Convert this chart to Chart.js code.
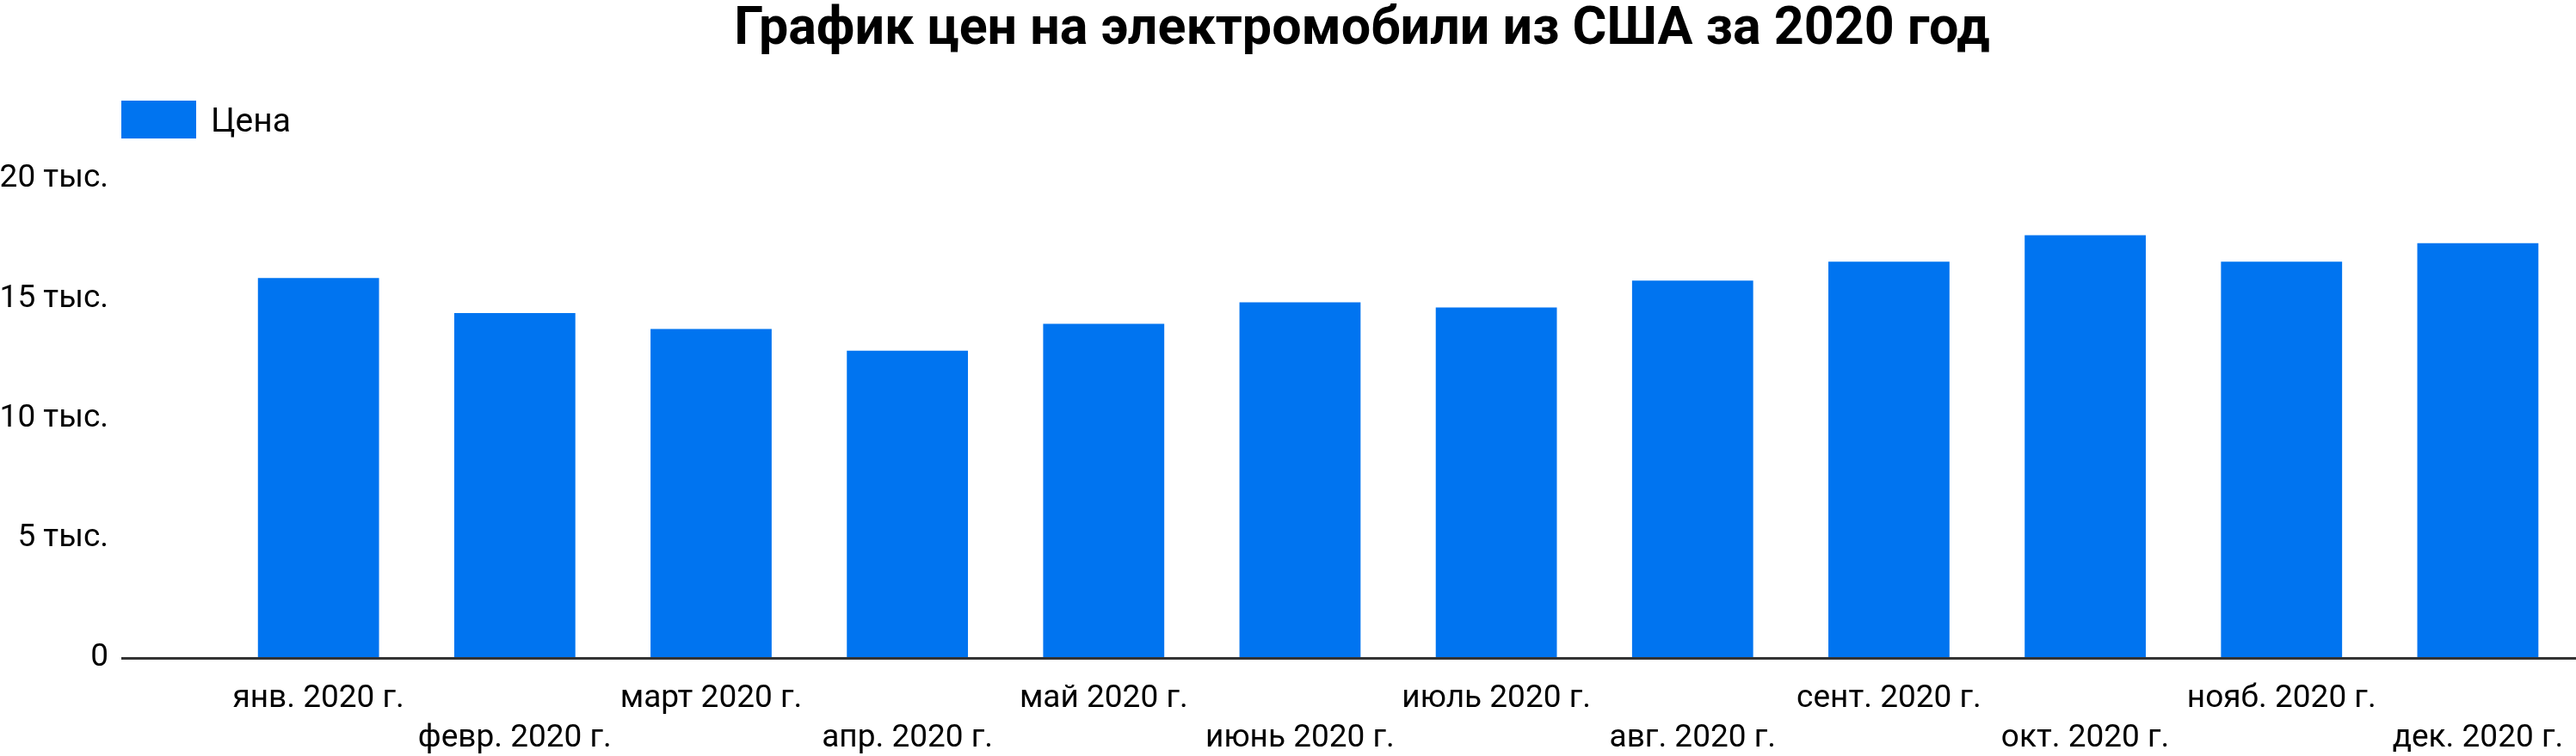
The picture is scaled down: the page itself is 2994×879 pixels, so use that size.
<!DOCTYPE html>
<html>
<head>
<meta charset="utf-8">
<script src="https://cdn.jsdelivr.net/npm/chart.js@4"></script>
<style>
  html, body { margin: 0; padding: 0; background: #ffffff; }
  #c { display: block; }
</style>
</head>
<body>
<canvas id="c" width="2994" height="879"></canvas>
<script>
// ---- data ----
const chartTitle = 'График цен на электромобили из США за 2020 год';
const seriesName = 'Цена';
const months = ['янв. 2020 г.', 'февр. 2020 г.', 'март 2020 г.', 'апр. 2020 г.', 'май 2020 г.', 'июнь 2020 г.',
                'июль 2020 г.', 'авг. 2020 г.', 'сент. 2020 г.', 'окт. 2020 г.', 'нояб. 2020 г.', 'дек. 2020 г.'];
const prices = [15860, 14400, 13730, 12830, 13950, 14850, 14630, 15750, 16540, 17650, 16540, 17320];
const yTickValues = [0, 5000, 10000, 15000, 20000];
const yTickLabels = ['0', '5 тыс.', '10 тыс.', '15 тыс.', '20 тыс.'];

const BAR_COLOR = '#0074F0';
const FONT = 'Roboto, "Noto Sans", sans-serif';

const headerPlugin = {
  id: 'header',
  afterDraw(chart) {
    const ctx = chart.ctx;
    ctx.save();
    // title
    ctx.fillStyle = '#000000';
    ctx.font = 'bold 61px ' + FONT;
    ctx.textAlign = 'center';
    ctx.textBaseline = 'alphabetic';
    ctx.fillText(chartTitle, 1583, 51);
    // legend
    ctx.fillStyle = BAR_COLOR;
    ctx.fillRect(141, 117, 87, 44);
    ctx.fillStyle = '#000000';
    ctx.font = '39px ' + FONT;
    ctx.textAlign = 'left';
    ctx.fillText(seriesName, 245, 153);
    ctx.restore();
  }
};

new Chart(document.getElementById('c'), {
  type: 'bar',
  data: {
    datasets: [{
      label: seriesName,
      data: prices.map((v, i) => ({ x: i, y: v })),
      backgroundColor: BAR_COLOR,
      borderWidth: 0,
      barPercentage: 1,
      categoryPercentage: 0.617
    }]
  },
  plugins: [headerPlugin],
  options: {
    responsive: false,
    devicePixelRatio: 1,
    animation: false,
    layout: { padding: { top: 208, left: 0, right: 0, bottom: 0 } },
    plugins: {
      legend: { display: false },
      title: { display: false },
      tooltip: { enabled: false }
    },
    scales: {
      x: {
        type: 'linear',
        offset: false,
        min: -1,
        max: 11.5,
        bounds: 'data',
        afterBuildTicks(scale) { scale.ticks = months.map((_, i) => ({ value: i })); },
        afterFit(scale) { scale.height = 114; scale.paddingLeft = 0; scale.paddingRight = 0; },
        grid: { display: false, drawTicks: false, offset: false },
        border: { display: true, color: '#333333', width: 3, z: 1 },
        ticks: {
          autoSkip: false,
          maxRotation: 0,
          minRotation: 0,
          padding: 24,
          color: '#000000',
          font: { family: FONT, size: 37, lineHeight: 1.26 },
          callback(value) {
            const i = Math.round(value);
            if (i < 0 || i >= months.length) return '';
            return i % 2 === 0 ? months[i] : ['', months[i]];
          }
        }
      },
      y: {
        min: 0,
        max: 20000,
        afterBuildTicks(scale) { scale.ticks = yTickValues.map(v => ({ value: v })); },
        afterFit(scale) { scale.width = 142; },
        grid: { display: false, drawTicks: false },
        border: { display: false },
        ticks: {
          padding: 16,
          color: '#000000',
          font: { family: FONT, size: 37 },
          callback(value) {
            const k = yTickValues.indexOf(value);
            return k >= 0 ? yTickLabels[k] : '';
          }
        }
      }
    }
  }
});
</script>
</body>
</html>
